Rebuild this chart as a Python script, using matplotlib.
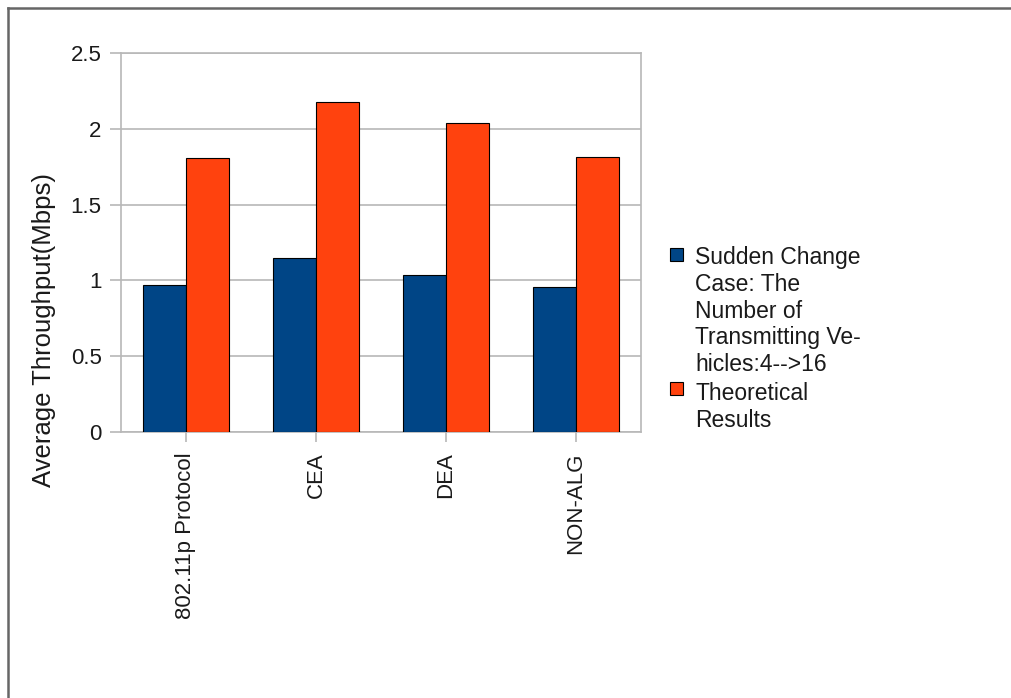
import matplotlib.pyplot as plt
import numpy as np
from matplotlib.patches import Rectangle
from matplotlib.lines import Line2D

plt.rcParams['font.family'] = ['Liberation Sans', 'DejaVu Sans']

categories = ['802.11p Protocol', 'CEA', 'DEA', 'NON-ALG']
sudden_change = [0.967, 1.151, 1.037, 0.954]
theoretical = [1.806, 2.173, 2.035, 1.816]
series_labels = ['Sudden Change\nCase: The\nNumber of\nTransmitting Ve-\nhicles:4-->16',
                 'Theoretical\nResults']
series_colors = ['#004586', '#ff420e']
y_ticks = [0, 0.5, 1, 1.5, 2, 2.5]
y_tick_labels = ['0', '0.5', '1', '1.5', '2', '2.5']

W, H = 1011, 698
fig = plt.figure(figsize=(W / 100, H / 100), dpi=100)
fig.patch.set_facecolor('white')

def px(x, y):
    return x / W, 1 - y / H

# plot area
l, t = px(121, 52.7)
r, b = px(641, 432.3)
ax = fig.add_axes([l, b, r - l, t - b])

x = np.arange(len(categories))
w = 0.333
ax.bar(x - w / 2, sudden_change, w, color=series_colors[0], edgecolor='black', linewidth=0.8, zorder=3)
ax.bar(x + w / 2, theoretical, w, color=series_colors[1], edgecolor='black', linewidth=0.8, zorder=3)

ax.set_xlim(-0.5, len(categories) - 0.5)
ax.set_ylim(0, 2.5)
ax.set_yticks(y_ticks)
ax.set_yticklabels(y_tick_labels)
ax.set_xticks(x)
ax.set_xticklabels(categories, rotation=90, va='top', ha='center')

grid_col = '#b8b8b8'
ax.yaxis.grid(True, color=grid_col, linewidth=1.2, zorder=0)
ax.set_axisbelow(True)
for s in ax.spines.values():
    s.set_color(grid_col)
    s.set_linewidth(1.2)
ax.tick_params(axis='y', length=8, width=1.2, color=grid_col, pad=6,
               labelsize=16, labelcolor='#1a1a1a')
ax.tick_params(axis='x', length=7.5, width=1.2, color=grid_col, pad=7,
               labelsize=16, labelcolor='#1a1a1a')

# axis title
fig.text(*px(44, 330), 'Average Throughput(Mbps)', rotation=90, fontsize=18.5,
         color='#1a1a1a', ha='center', va='center')

# legend
legend_rows = [(248, 311), (382, 407)]
for (sq_top, text_mid), lab, col in zip(legend_rows, series_labels, series_colors):
    sx, sy = px(670, sq_top + 13)
    fig.patches.append(Rectangle((sx, sy), 12.5 / W, 13 / H, transform=fig.transFigure,
                                 facecolor=col, edgecolor='black', linewidth=0.8))
    fig.text(*px(695, text_mid), lab, fontsize=16.5, color='#1a1a1a',
             ha='left', va='center', linespacing=1.21)

# page frame
frame_col = '#666666'
fig.lines.append(Line2D([8 / W, 1], [1 - 8 / H, 1 - 8 / H], transform=fig.transFigure,
                        color=frame_col, linewidth=1.8))
fig.lines.append(Line2D([8 / W, 8 / W], [0, 1 - 8 / H], transform=fig.transFigure,
                        color=frame_col, linewidth=1.8))

fig.savefig('out.png', dpi=100)
